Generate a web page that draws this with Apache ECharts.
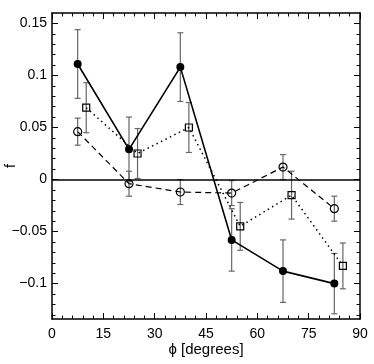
<!DOCTYPE html>
<html>
<head>
<meta charset="utf-8">
<script src="https://cdn.jsdelivr.net/npm/echarts@6/dist/echarts.min.js"></script>
<style>
  html, body { margin: 0; padding: 0; background: #fff; }
  #chart { width: 374px; height: 364px; }
</style>
</head>
<body>
<div id="chart"></div>
<script>
// values
var xFilled = [7.5, 22.5, 37.5, 52.5, 67.5, 82.5];
var yFilled = [0.111, 0.029, 0.108, -0.058, -0.088, -0.100];
var eFilled = [0.033, 0.031, 0.033, 0.030, 0.030, 0.029];

var xOpen = [7.5, 22.5, 37.5, 52.5, 67.5, 82.5];
var yOpen = [0.046, -0.004, -0.012, -0.013, 0.012, -0.028];
var eOpen = [0.013, 0.012, 0.012, 0.012, 0.012, 0.012];

var xSquare = [10, 25, 40, 55, 70, 85];
var ySquare = [0.069, 0.025, 0.050, -0.045, -0.015, -0.083];
var eSquare = [0.024, 0.024, 0.024, 0.023, 0.023, 0.022];

var yTicks = [-0.1, -0.05, 0, 0.05, 0.1, 0.15];
var yMin = -0.134, yMax = 0.16;

// minor ticks every 0.01
var yMinorTicks = [];
for (var k = -13; k <= 15; k++) yMinorTicks.push(k / 100);

function pts(xs, ys) {
  return xs.map(function (x, i) { return [x, ys[i]]; });
}
function bars(xs, ys, es) {
  return xs.map(function (x, i) { return [x, ys[i], es[i]]; });
}

var chart = echarts.init(document.getElementById('chart'));

var font = 'Liberation Sans, Arial, sans-serif';
var black = '#000';

function errorSeries(data) {
  return {
    type: 'custom',
    data: data,
    z: 1,
    renderItem: function (params, api) {
      var x = api.value(0), y = api.value(1), e = api.value(2);
      var top = api.coord([x, y + e]);
      var bot = api.coord([x, y - e]);
      var cap = 3;
      var style = { stroke: '#666', lineWidth: 1.2 };
      return {
        type: 'group',
        children: [
          { type: 'line', shape: { x1: top[0], y1: top[1], x2: bot[0], y2: bot[1] }, style: style },
          { type: 'line', shape: { x1: top[0] - cap, y1: top[1], x2: top[0] + cap, y2: top[1] }, style: style },
          { type: 'line', shape: { x1: bot[0] - cap, y1: bot[1], x2: bot[0] + cap, y2: bot[1] }, style: style }
        ]
      };
    }
  };
}

var minus = function (v) { return String(v).replace('-', '\u2212'); };

function yAxisPart(pos, ticks, len, line) {
  return {
    type: 'value', min: yMin, max: yMax, position: pos,
    axisLine: { show: line, onZero: false, lineStyle: { color: black, width: 1.5 } },
    axisTick: { inside: true, length: len, customValues: ticks, lineStyle: { color: black } },
    axisLabel: { show: false },
    splitLine: { show: false }
  };
}

var yLeft = yAxisPart('left', yTicks, 6, true);
yLeft.name = 'f';
yLeft.nameLocation = 'middle';
yLeft.nameGap = 34;
yLeft.nameRotate = 90;
yLeft.nameMoveOverlap = false;
yLeft.nameTextStyle = { fontFamily: font, fontSize: 14, color: black };
yLeft.axisLabel = { customValues: yTicks, formatter: minus, fontFamily: font, fontSize: 14, color: black, margin: 5 };

chart.setOption({
  animation: false,
  grid: { left: 52, right: 14, top: 13, bottom: 45, outerBoundsMode: 'none', containLabel: false },
  xAxis: [{
    type: 'value', min: 0, max: 90, interval: 15, position: 'bottom',
    name: '\u03d5 [degrees]', nameLocation: 'middle', nameGap: 23, nameMoveOverlap: false,
    nameTextStyle: { fontFamily: font, fontSize: 15, color: black },
    axisLine: { show: true, onZero: false, lineStyle: { color: black, width: 1.5 } },
    axisTick: { inside: true, length: 6, lineStyle: { color: black } },
    minorTick: { show: true, splitNumber: 5, length: 3.5, lineStyle: { color: black } },
    axisLabel: { fontFamily: font, fontSize: 14, color: black, margin: 8 },
    splitLine: { show: false }
  }, {
    type: 'value', min: 0, max: 90, interval: 15, position: 'top',
    axisLine: { show: true, onZero: false, lineStyle: { color: black, width: 1.5 } },
    axisTick: { inside: true, length: 6, lineStyle: { color: black } },
    minorTick: { show: true, splitNumber: 5, length: 3.5, lineStyle: { color: black } },
    axisLabel: { show: false },
    splitLine: { show: false }
  }],
  yAxis: [
    yLeft,
    yAxisPart('left', yMinorTicks, 3.5, false),
    yAxisPart('right', yTicks, 6, true),
    yAxisPart('right', yMinorTicks, 3.5, false)
  ],
  series: [
    errorSeries(bars(xFilled, yFilled, eFilled)),
    errorSeries(bars(xOpen, yOpen, eOpen)),
    errorSeries(bars(xSquare, ySquare, eSquare)),
    {
      type: 'line', data: pts(xFilled, yFilled), z: 3,
      symbol: 'circle', symbolSize: 8,
      itemStyle: { color: black },
      lineStyle: { color: black, width: 1.6 },
      markLine: {
        silent: true, symbol: 'none', label: { show: false },
        lineStyle: { color: black, width: 1.5, type: 'solid' },
        data: [{ yAxis: 0 }]
      }
    },
    {
      type: 'line', data: pts(xOpen, yOpen), z: 3,
      symbol: 'circle', symbolSize: 8,
      itemStyle: { color: 'rgba(0,0,0,0)', borderColor: black, borderWidth: 1.2 },
      lineStyle: { color: black, width: 1.2, type: [6, 4] }
    },
    {
      type: 'line', data: pts(xSquare, ySquare), z: 3,
      symbol: 'rect', symbolSize: 7,
      itemStyle: { color: 'rgba(0,0,0,0)', borderColor: black, borderWidth: 1.2 },
      lineStyle: { color: black, width: 1.5, type: [1.5, 3.5] }
    }
  ]
});
</script>
</body>
</html>
